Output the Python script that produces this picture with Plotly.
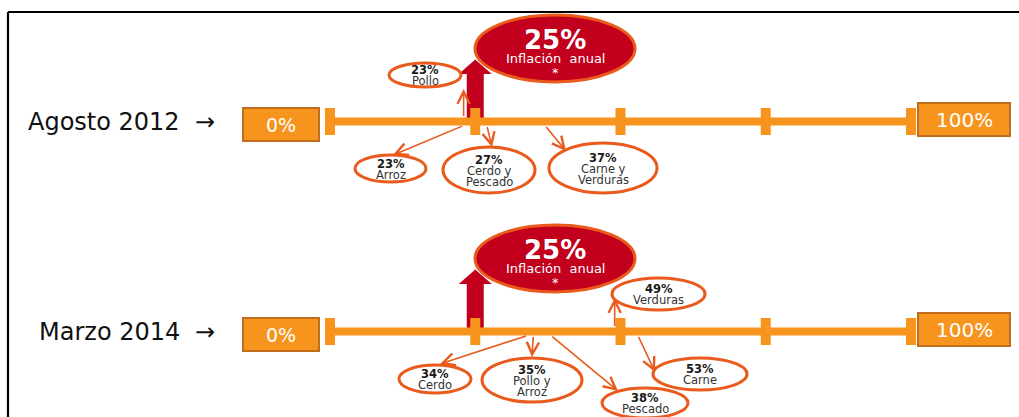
import plotly.graph_objects as go

# ---------------------------------------------------------------- data
periods = ["Agosto 2012", "Marzo 2014"]
scale_ticks = [0, 25, 50, 75, 100]
inflation = [25, 25]                      # annual inflation, %

foods_2012 = ["Pollo", "Arroz", "Cerdo y<br>Pescado", "Carne y<br>Verduras"]
values_2012 = [23, 23, 27, 37]
foods_2014 = ["Cerdo", "Pollo y<br>Arroz", "Pescado", "Verduras", "Carne"]
values_2014 = [34, 35, 38, 49, 53]

# ---------------------------------------------------------------- layout
W, H = 1019, 417
X0_PX, X100_PX = 330, 911                 # pixel position of 0 % and 100 %
SCALE = (X100_PX - X0_PX) / 100.0


def xp(px):
    """pixel column -> x-axis units (%)"""
    return (px - X0_PX) / SCALE


row_y = [121.5, 331.5]                    # y (pixels) of each scale bar

# callout bubbles: ellipse box (x0, x1, y0, y1 relative to bar) and arrow tip
# (tip x None -> vertical arrow straight above the value)
callouts_2012 = [
    dict(box=(389, 461, -58.5, -34.5), tip=(None, -32.5)),
    dict(box=(355, 426, 33.5, 60.5), tip=(393, 33.5)),
    dict(box=(443, 535, 25.5, 71.5), tip=(492, 25.5)),
    dict(box=(549, 657, 21.5, 71.5), tip=(566, 29.5)),
]
callouts_2014 = [
    dict(box=(399, 471, 33.5, 61.5), tip=(440, 32.5)),
    dict(box=(482, 582, 26.5, 70.5), tip=(532, 25.5)),
    dict(box=(602, 688, 56.5, 86.5), tip=(618, 59.5)),
    dict(box=(612, 705, -53.5, -21.5), tip=(None, -33.5)),
    dict(box=(653, 747, 26.5, 58.5), tip=(655, 40.5)),
]

ORANGE = "#F7941D"
BOX_EDGE = "#C06E1E"
CALLOUT = "#E95A1C"
RED = "#C2001D"
FONT = "DejaVu Sans"

shapes = []
annotations = []

# frame
shapes.append(dict(type="line", xref="paper", yref="paper", x0=8 / W, x1=1,
                   y0=1 - 12 / H, y1=1 - 12 / H, line=dict(color="black", width=2.2)))
shapes.append(dict(type="line", xref="paper", yref="paper", x0=8 / W, x1=8 / W,
                   y0=0, y1=1 - 12 / H, line=dict(color="black", width=2.2)))

rows = [
    (periods[0], row_y[0], inflation[0], foods_2012, values_2012, callouts_2012),
    (periods[1], row_y[1], inflation[1], foods_2014, values_2014, callouts_2014),
]

for period, yc, infl, foods, values, callouts in rows:
    # period label with arrow
    annotations.append(dict(xref="x", yref="y", x=xp(182), y=yc, text=period,
                            xanchor="right", yanchor="middle", showarrow=False,
                            font=dict(family=FONT, size=24, color="#111")))
    annotations.append(dict(xref="x", yref="y", x=xp(205), y=yc + 0.5, text="\u2192",
                            xanchor="center", yanchor="middle", showarrow=False,
                            font=dict(family=FONT, size=24, color="#111")))

    # inflation arrow (under the bar)
    xc = infl
    hs, hh = 8.5 / SCALE, 16.5 / SCALE
    y_tip, y_base, y_bot = yc - 62, yc - 47.5, yc
    path = (f"M {xc - hs} {y_bot} L {xc - hs} {y_base} L {xc - hh} {y_base} "
            f"L {xc} {y_tip} L {xc + hh} {y_base} L {xc + hs} {y_base} "
            f"L {xc + hs} {y_bot} Z")
    shapes.append(dict(type="path", xref="x", yref="y", path=path,
                       fillcolor=RED, line=dict(width=0)))

    # scale bar and ticks
    shapes.append(dict(type="line", xref="x", yref="y", x0=scale_ticks[0],
                       x1=scale_ticks[-1], y0=yc, y1=yc,
                       line=dict(color=ORANGE, width=8)))
    tw = 5 / SCALE
    for t in scale_ticks:
        shapes.append(dict(type="rect", xref="x", yref="y", x0=t - tw, x1=t + tw,
                           y0=yc - 13.5, y1=yc + 13.5, fillcolor=ORANGE,
                           line=dict(width=0)))

    # 0 % and 100 % end boxes
    shapes.append(dict(type="rect", xref="x", yref="y", x0=xp(243), x1=xp(319),
                       y0=yc - 13.5, y1=yc + 19.5, fillcolor=ORANGE,
                       line=dict(color=BOX_EDGE, width=2)))
    annotations.append(dict(xref="x", yref="y", x=xp(281), y=yc + 3.5, text="0%",
                            showarrow=False, font=dict(family=FONT, size=19, color="white")))
    shapes.append(dict(type="rect", xref="x", yref="y", x0=xp(918), x1=xp(1010),
                       y0=yc - 18.5, y1=yc + 14.5, fillcolor=ORANGE,
                       line=dict(color=BOX_EDGE, width=2)))
    annotations.append(dict(xref="x", yref="y", x=xp(964), y=yc - 1.5, text="100%",
                            showarrow=False, font=dict(family=FONT, size=20, color="white")))

    # inflation bubble
    bcy = yc - 73
    shapes.append(dict(type="circle", xref="x", yref="y", x0=xp(475), x1=xp(635),
                       y0=bcy - 33.5, y1=bcy + 33.5, fillcolor=RED,
                       line=dict(color=CALLOUT, width=3)))
    annotations.append(dict(xref="x", yref="y", x=xp(555), y=bcy - 9,
                            text=f"<b>{infl}%</b>", showarrow=False,
                            font=dict(family=FONT, size=26, color="white")))
    annotations.append(dict(xref="x", yref="y", x=xp(555), y=bcy + 9.5,
                            text="Inflación\u00a0 anual", showarrow=False,
                            font=dict(family=FONT, size=13, color="white")))
    annotations.append(dict(xref="x", yref="y", x=xp(555), y=bcy + 24,
                            text="*", showarrow=False,
                            font=dict(family=FONT, size=13, color="white")))

    # food callouts
    for food, val, co in zip(foods, values, callouts):
        bx0, bx1, by0, by1 = co["box"]
        tx, ty = co["tip"]
        up = ty < 0
        tail_y = yc - 4 if up else yc + 4
        tip_x = val if tx is None else xp(tx)
        annotations.append(dict(xref="x", yref="y", axref="x", ayref="y",
                                x=tip_x, y=yc + ty, ax=val, ay=tail_y, text="",
                                showarrow=True, arrowhead=5, arrowsize=1.5,
                                arrowwidth=1.6, arrowcolor=CALLOUT, standoff=0))
        shapes.append(dict(type="circle", xref="x", yref="y", x0=xp(bx0), x1=xp(bx1),
                           y0=yc + by0, y1=yc + by1, fillcolor="rgba(255,255,255,0)",
                           line=dict(color=CALLOUT, width=3)))
        lines = [f"<b>{val}%</b>"] + food.split("<br>")
        cx = xp((bx0 + bx1) / 2)
        cy = yc + (by0 + by1) / 2
        n = len(lines)
        for i, ln in enumerate(lines):
            annotations.append(dict(xref="x", yref="y", x=cx,
                                    y=cy + (i - (n - 1) / 2) * 11 + 0.5, text=ln,
                                    showarrow=False,
                                    font=dict(family=FONT, size=11.5,
                                              color="#1a1a1a" if i == 0 else "#333")))

fig = go.Figure()
fig.add_trace(go.Scatter(x=[None], y=[None], showlegend=False, hoverinfo="skip"))
fig.update_layout(
    width=W, height=H,
    margin=dict(l=0, r=0, t=0, b=0),
    paper_bgcolor="white", plot_bgcolor="white",
    showlegend=False,
    xaxis=dict(range=[xp(0), xp(W)], visible=False, fixedrange=True),
    yaxis=dict(range=[H, 0], visible=False, fixedrange=True),
    shapes=shapes,
    annotations=annotations,
)
fig.write_html("out.html")
